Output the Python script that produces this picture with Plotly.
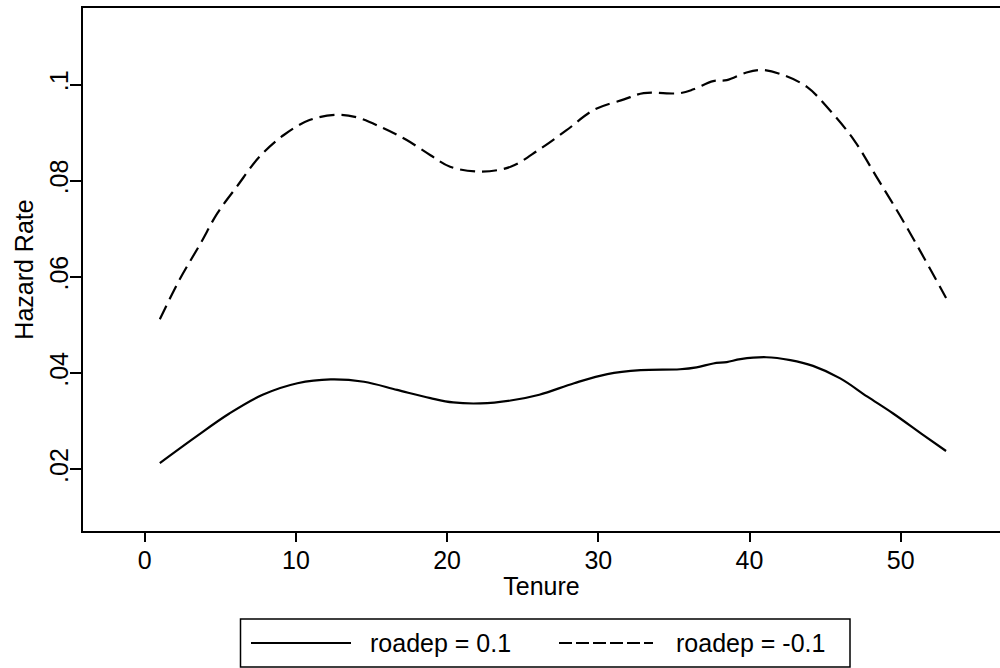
import plotly.graph_objects as go

# ---- data ----
tenure_pos = [1.0, 3.4, 5.6, 7.8, 10.1, 12.3, 14.5, 16.7, 18.9, 20.4, 22.2, 24.2, 26.1,
              28.4, 30.6, 32.8, 35.4, 36.5, 37.6, 38.5, 39.4, 41.1, 42.7, 44.2, 46.0,
              47.8, 49.5, 51.5, 53.0]
hazard_pos = [0.0213, 0.0268, 0.0316, 0.0355, 0.0379, 0.0387, 0.0382, 0.0365, 0.0348,
              0.0339, 0.0337, 0.0343, 0.0355, 0.0379, 0.0398, 0.0406, 0.0408, 0.0412,
              0.0420, 0.0423, 0.0429, 0.0433, 0.0427, 0.0415, 0.0389, 0.0351, 0.0316,
              0.0271, 0.0238]

tenure_neg = [1.0, 2.3, 3.7, 4.8, 6.1, 7.6, 9.2, 10.9, 12.7, 14.0, 15.8, 17.3, 18.9,
              20.2, 22.2, 24.2, 26.1, 27.9, 29.7, 31.7, 33.0, 35.4, 36.3, 37.6, 38.5,
              39.8, 40.9, 42.2, 43.8, 45.3, 46.9, 48.4, 50.0, 51.5, 53.0]
hazard_neg = [0.0512, 0.0594, 0.0670, 0.0732, 0.0788, 0.0850, 0.0895, 0.0926, 0.0937,
              0.0932, 0.0909, 0.0885, 0.0853, 0.0829, 0.0819, 0.0829, 0.0865, 0.0905,
              0.0947, 0.0969, 0.0982, 0.0982, 0.0990, 0.1007, 0.1009, 0.1025, 0.1030,
              0.1020, 0.0995, 0.0947, 0.0885, 0.0808, 0.0725, 0.0642, 0.0556]

series_names = ["roadep = 0.1", "roadep = -0.1"]
x_ticks = [0, 10, 20, 30, 40, 50]
y_ticks = [0.02, 0.04, 0.06, 0.08, 0.10]
y_tick_labels = [".02", ".04", ".06", ".08", ".1"]

FONT = "Liberation Sans, Arial, Helvetica, sans-serif"
FS = 25
W, H = 1000, 668
L, R, T, B = 83, 0, 8, 137

fig = go.Figure()
fig.add_trace(go.Scatter(x=tenure_pos, y=hazard_pos, mode="lines", name=series_names[0],
                         line=dict(color="black", width=2.2, shape="spline", smoothing=1.0),
                         showlegend=False))
fig.add_trace(go.Scatter(x=tenure_neg, y=hazard_neg, mode="lines", name=series_names[1],
                         line=dict(color="black", width=2.2, dash="15px,7px", shape="spline",
                                   smoothing=1.0),
                         showlegend=False))

plot_w = W - L - R
plot_h = H - T - B


def px2x(px):
    return (px - L) / plot_w


def py2y(py):
    return (H - B - py) / plot_h


# manual legend (box, samples, labels)
bx0, bx1, by0, by1 = 240.5, 850, 619, 667
cy = (by0 + by1) / 2
shapes = [
    dict(type="rect", xref="paper", yref="paper", x0=px2x(bx0), x1=px2x(bx1),
         y0=py2y(by1), y1=py2y(by0), line=dict(color="black", width=1.5),
         fillcolor="white", layer="above"),
    dict(type="line", xref="paper", yref="paper", x0=px2x(251), x1=px2x(351),
         y0=py2y(cy), y1=py2y(cy), line=dict(color="black", width=2.2)),
    dict(type="line", xref="paper", yref="paper", x0=px2x(559), x1=px2x(653),
         y0=py2y(cy), y1=py2y(cy), line=dict(color="black", width=2.2, dash="13px,4px")),
]
annotations = [
    dict(xref="paper", yref="paper", x=px2x(368), y=py2y(cy), text=series_names[0],
         showarrow=False, xanchor="left", yanchor="middle",
         font=dict(family=FONT, size=FS, color="black")),
    dict(xref="paper", yref="paper", x=px2x(674), y=py2y(cy), text=series_names[1],
         showarrow=False, xanchor="left", yanchor="middle",
         font=dict(family=FONT, size=FS, color="black")),
]

fig.update_layout(
    width=W, height=H,
    margin=dict(l=L, r=R, t=T, b=B, autoexpand=False),
    paper_bgcolor="white", plot_bgcolor="white",
    font=dict(family=FONT, size=FS, color="black"),
    showlegend=False,
    shapes=shapes,
    annotations=annotations,
    xaxis=dict(
        range=[(L - 144.7) / 15.12, (W - R - 144.7) / 15.12],
        tickmode="array", tickvals=x_ticks, ticktext=[str(v) for v in x_ticks],
        ticks="outside", ticklen=9, tickwidth=1.5, tickcolor="black",
        ticklabelstandoff=-3,
        showline=True, linecolor="black", linewidth=2, mirror=True,
        showgrid=False, zeroline=False,
        tickfont=dict(family=FONT, size=FS, color="black"),
        title=dict(text="Tenure", font=dict(family=FONT, size=FS, color="black"), standoff=4),
        automargin=False,
    ),
    yaxis=dict(
        range=[0.1 - (H - B - 84.5) / 4810, 0.1 + (84.5 - T) / 4810],
        tickmode="array", tickvals=y_ticks, ticktext=y_tick_labels,
        tickangle=-90,
        ticks="outside", ticklen=11, tickwidth=1.5, tickcolor="black",
        ticklabelstandoff=-8,
        showline=True, linecolor="black", linewidth=2, mirror=False,
        showgrid=False, zeroline=False,
        tickfont=dict(family=FONT, size=FS, color="black"),
        title=dict(text="Hazard Rate", font=dict(family=FONT, size=FS, color="black"), standoff=4),
        automargin=False,
    ),
)

fig.write_html("out.html", config={"displayModeBar": False},
               post_script="document.body.style.margin='0';document.body.style.overflow='hidden';")
